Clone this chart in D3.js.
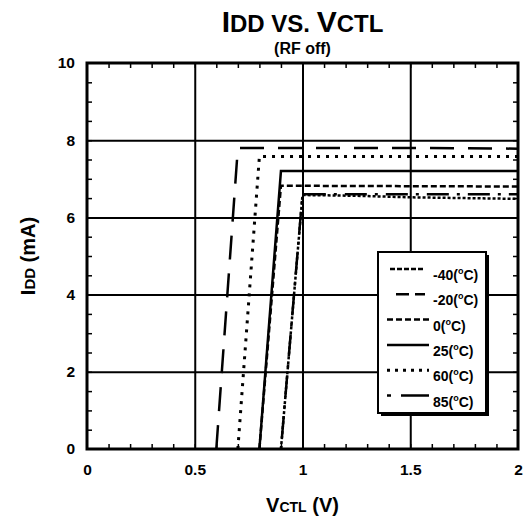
<!DOCTYPE html>
<html>
<head>
<meta charset="utf-8">
<script src="https://cdn.jsdelivr.net/npm/d3@7"></script>
<style>
  html, body { margin: 0; padding: 0; background: #fff; }
  svg { display: block; }
  text { font-family: "Liberation Sans", Arial, sans-serif; font-weight: bold; fill: #000; }
</style>
</head>
<body>
<svg id="chart" width="529" height="522"></svg>
<script>
// ---- data ----
const seriesNames = ["-40", "-20", "0", "25", "60", "85"];
const vctlN40 = [0.9, 1.0, 1.25, 1.5, 2.0];
const iddN40  = [0, 6.58, 6.56, 6.52, 6.48];
const vctlN20 = [0.6, 0.7, 1.5, 2.0];
const iddN20  = [0, 7.8, 7.8, 7.78];
const vctl0   = [0.8, 0.9, 2.0];
const idd0    = [0, 6.82, 6.8];
const vctl25  = [0.8, 0.9, 2.0];
const idd25   = [0, 7.2, 7.2];
const vctl60  = [0.7, 0.8, 2.0];
const idd60   = [0, 7.58, 7.58];
const vctl85  = [0.9, 1.0, 1.5, 2.0];
const idd85   = [0, 6.6, 6.6, 6.6];

const xTicks = [0, 0.5, 1, 1.5, 2];
const xTickLabels = ["0", "0.5", "1", "1.5", "2"];
const yTicks = [0, 2, 4, 6, 8, 10];
const yTickLabels = ["0", "2", "4", "6", "8", "10"];

const seriesData = {
  "-40": [vctlN40, iddN40],
  "-20": [vctlN20, iddN20],
  "0":   [vctl0, idd0],
  "25":  [vctl25, idd25],
  "60":  [vctl60, idd60],
  "85":  [vctl85, idd85]
};

// ---- styles ----
const lineStyle = {
  "-40": { dash: "3,2",        legendDash: "5,2" },
  "-20": { dash: "24,14",      legendDash: "13,6" },
  "0":   { dash: "6,3",        legendDash: "6,3" },
  "25":  { dash: null,         legendDash: null },
  "60":  { dash: "3,6",        legendDash: "3,5" },
  "85":  { dash: "3,8,22,8",   legendDash: "4,10,30,10" }
};

const svg = d3.select("#chart");
const L = 87, R = 518, T = 63, B = 449;
const x = d3.scaleLinear().domain([0, 2]).range([L, R]);
const y = d3.scaleLinear().domain([0, 10]).range([B, T]);

// grid lines
svg.append("g").attr("transform", `translate(0,${B})`)
  .call(d3.axisBottom(x).tickValues(xTicks.slice(1, -1)).tickSize(-(B - T)).tickFormat(""))
  .call(g => g.select(".domain").remove())
  .call(g => g.selectAll("line").attr("stroke", "#000").attr("stroke-width", 2));
svg.append("g").attr("transform", `translate(${L},0)`)
  .call(d3.axisLeft(y).tickValues(yTicks.slice(1, -1)).tickSize(-(R - L)).tickFormat(""))
  .call(g => g.select(".domain").remove())
  .call(g => g.selectAll("line").attr("stroke", "#000").attr("stroke-width", 2));

// minor ticks, inward on all four sides
const xMinor = d3.range(1, 20).map(i => i / 10);
const yMinor = d3.range(1, 20).map(i => i / 2);
function minor(axis, tr) {
  svg.append("g").attr("transform", tr)
    .call(axis.tickSize(-5).tickFormat(""))
    .call(g => g.select(".domain").remove())
    .call(g => g.selectAll("line").attr("stroke", "#000").attr("stroke-width", 1.5));
}
minor(d3.axisBottom(x).tickValues(xMinor), `translate(0,${B})`);
minor(d3.axisTop(x).tickValues(xMinor), `translate(0,${T})`);
minor(d3.axisLeft(y).tickValues(yMinor), `translate(${L},0)`);
minor(d3.axisRight(y).tickValues(yMinor), `translate(${R},0)`);

// curves
const line = d3.line().x(d => x(d[0])).y(d => y(d[1]));
seriesNames.forEach(name => {
  const [xs, ys] = seriesData[name];
  const pts = xs.map((v, i) => [v, ys[i]]);
  svg.append("path")
    .attr("d", line(pts))
    .attr("fill", "none")
    .attr("stroke", "#000")
    .attr("stroke-width", name === "60" ? 3 : 2.5)
    .attr("stroke-dasharray", lineStyle[name].dash);
});

// frame
svg.append("rect").attr("x", L).attr("y", T).attr("width", R - L).attr("height", B - T)
  .attr("fill", "none").attr("stroke", "#000").attr("stroke-width", 3);

// tick labels
svg.append("g").attr("transform", `translate(0,${B})`)
  .call(d3.axisBottom(x).tickValues(xTicks).tickSize(0).tickPadding(15)
    .tickFormat((d, i) => xTickLabels[i]))
  .call(g => g.select(".domain").remove())
  .call(g => g.selectAll("text").attr("font-size", 15.5).attr("font-family", null));
svg.append("g").attr("transform", `translate(${L},0)`)
  .call(d3.axisLeft(y).tickValues(yTicks).tickSize(0).tickPadding(12)
    .tickFormat((d, i) => yTickLabels[i]))
  .call(g => g.select(".domain").remove())
  .call(g => g.selectAll("text").attr("font-size", 15.5).attr("font-family", null));

// title
const title = svg.append("text").attr("x", (L + R) / 2).attr("y", 32).attr("text-anchor", "middle");
title.append("tspan").attr("font-size", 30).text("I");
title.append("tspan").attr("font-size", 24).text("DD VS. ");
title.append("tspan").attr("font-size", 30).text("V");
title.append("tspan").attr("font-size", 24).text("CTL");
svg.append("text").attr("x", (L + R) / 2).attr("y", 54).attr("text-anchor", "middle")
  .attr("font-size", 16).text("(RF off)");

// axis titles
const xt = svg.append("text").attr("x", (L + R) / 2).attr("y", 512).attr("text-anchor", "middle");
xt.append("tspan").attr("font-size", 20).text("V");
xt.append("tspan").attr("font-size", 14).text("CTL");
xt.append("tspan").attr("font-size", 20).text(" (V)");
const yt = svg.append("text").attr("transform", `translate(35,${(T + B) / 2}) rotate(-90)`).attr("text-anchor", "middle");
yt.append("tspan").attr("font-size", 20).text("I");
yt.append("tspan").attr("font-size", 15).text("DD");
yt.append("tspan").attr("font-size", 20).text(" (mA)");

// legend
const lg = svg.append("g");
const lx = 378, ly = 252, lw = 108, lh = 161;
lg.append("rect").attr("x", lx + 3).attr("y", ly + 3).attr("width", lw).attr("height", lh).attr("fill", "#000");
lg.append("rect").attr("x", lx).attr("y", ly).attr("width", lw).attr("height", lh)
  .attr("fill", "#fff").attr("stroke", "#000").attr("stroke-width", 2);
seriesNames.forEach((name, i) => {
  const ry = 269 + i * 25.3;
  const x0 = (name === "-40") ? 390 : (name === "-20" ? 396 : 387);
  const x1 = (name === "-40" || name === "-20") ? 425 : 429;
  lg.append("line").attr("x1", x0).attr("x2", x1).attr("y1", ry).attr("y2", ry)
    .attr("stroke", "#000").attr("stroke-width", name === "60" ? 3 : 2.5)
    .attr("stroke-dasharray", lineStyle[name].legendDash);
  const t = lg.append("text").attr("x", 433).attr("y", ry + 11).attr("font-size", 14);
  t.append("tspan").text(name + "(");
  t.append("tspan").attr("font-size", 9).attr("dy", -6).text("o");
  t.append("tspan").attr("dy", 6).text("C)");
});
</script>
</body>
</html>
